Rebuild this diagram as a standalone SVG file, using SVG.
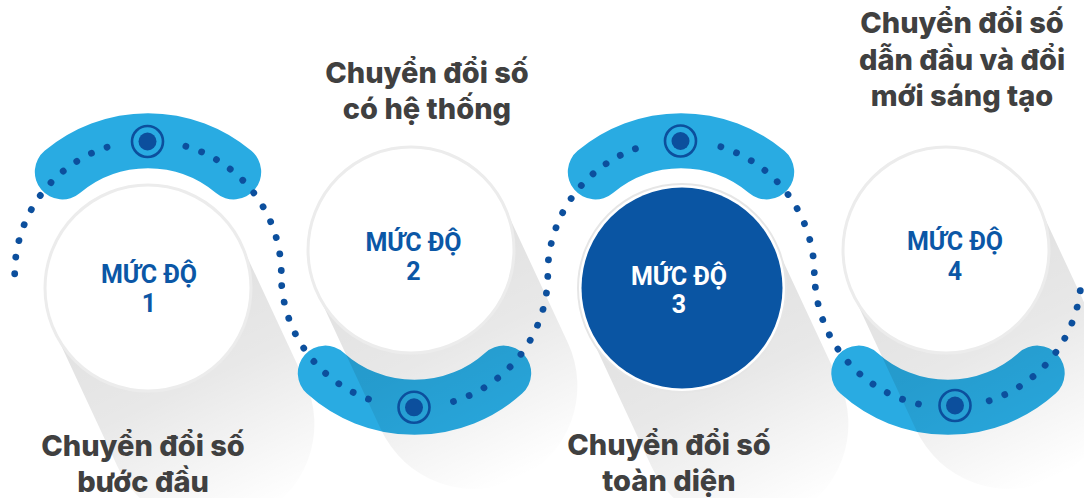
<svg xmlns="http://www.w3.org/2000/svg" xmlns:xlink="http://www.w3.org/1999/xlink" width="1084" height="498" viewBox="0 0 1084 498">
<style>
.band{fill:none;stroke:#29abe2;stroke-width:55;stroke-linecap:round}
.circ{fill:#ffffff;stroke:#ececec;stroke-width:3}
.tring{fill:none;stroke:#0c4f9d;stroke-width:2.6}
.tdot{fill:#0c4f9d}
.lbl{font-family:Roboto,"Liberation Sans",sans-serif;font-weight:700;font-size:25px;fill:#0b57a6;text-anchor:middle}
.lblw{fill:#ffffff}
.ttl{font-family:Inter,"Noto Sans","Liberation Sans",sans-serif;font-weight:800;font-size:29px;fill:#404040;text-anchor:middle}
.dots{fill:#0c4f9d}
</style>
<defs>
<linearGradient id="shg" gradientUnits="userSpaceOnUse" x1="0" y1="0" x2="106.9" y2="229.3">
<stop offset="0" stop-color="#000" stop-opacity="0.12"/>
<stop offset="0.42" stop-color="#000" stop-opacity="0.09"/>
<stop offset="1" stop-color="#000" stop-opacity="0"/>
</linearGradient>
<path id="shadow" d="M 93.35 -43.53 L 156.74 92.42 A 103 103 0 0 1 -30.04 179.48 L -93.35 43.53 Z" fill="url(#shg)"/>
<circle id="dt" cx="0" cy="-133.3" r="3.4"/>
<circle id="db" cx="0" cy="133.3" r="3.4"/>
</defs>
<rect width="1084" height="498" fill="#ffffff"/>

<g id="node1">
<path class="band" d="M 62.3 171.9 A 133.3 133.3 0 0 1 233.7 171.9"/>
<use href="#shadow" transform="translate(148 288)"/>
<circle class="circ" cx="148" cy="288" r="103"/>
<circle class="tring" cx="147.5" cy="141.5" r="15.5"/>
<circle class="tdot" cx="147.5" cy="141.5" r="9"/>
<text class="lbl" x="149" y="283">MỨC ĐỘ</text>
<text class="lbl" x="149" y="312">1</text>
<text class="ttl" x="143" y="456">Chuyển đổi số</text>
<text class="ttl" x="143" y="492">bước đầu</text>
</g>

<g id="node2">
<path class="band" d="M 325.3 373.1 A 133.3 133.3 0 0 0 503.7 373.1"/>
<use href="#shadow" transform="translate(411 250)"/>
<circle class="circ" cx="411" cy="250" r="103"/>
<circle class="tring" cx="414" cy="407.3" r="15.5"/>
<circle class="tdot" cx="414" cy="407.3" r="9"/>
<text class="lbl" x="413.5" y="251">MỨC ĐỘ</text>
<text class="lbl" x="413.5" y="280">2</text>
<text class="ttl" x="427" y="83">Chuyển đổi số</text>
<text class="ttl" x="427" y="119">có hệ thống</text>
</g>

<g id="node3">
<path class="band" d="M 595.3 171.9 A 133.3 133.3 0 0 1 766.7 171.9"/>
<use href="#shadow" transform="translate(682 288)"/>
<circle cx="682" cy="288" r="104" fill="#ffffff" stroke="#e6e6e6" stroke-width="2"/>
<circle cx="682" cy="288" r="100.5" fill="#0a55a3"/>
<circle class="tring" cx="680.5" cy="141" r="15.5"/>
<circle class="tdot" cx="680.5" cy="141" r="9"/>
<text class="lbl lblw" x="679" y="285">MỨC ĐỘ</text>
<text class="lbl lblw" x="679" y="313">3</text>
<text class="ttl" x="669" y="455">Chuyển đổi số</text>
<text class="ttl" x="669" y="491">toàn diện</text>
</g>

<g id="node4">
<path class="band" d="M 858.8 373.1 A 133.3 133.3 0 0 0 1037.2 373.1"/>
<use href="#shadow" transform="translate(946 250)"/>
<circle class="circ" cx="946" cy="250" r="103"/>
<circle class="tring" cx="955" cy="405.5" r="15.5"/>
<circle class="tdot" cx="955" cy="405.5" r="9"/>
<text class="lbl" x="955" y="250">MỨC ĐỘ</text>
<text class="lbl" x="955" y="280">4</text>
<text class="ttl" x="962" y="33">Chuyển đổi số</text>
<text class="ttl" x="962" y="70">dẫn đầu và đổi</text>
<text class="ttl" x="962" y="106">mới sáng tạo</text>
</g>

<g id="connectors" class="dots">
<g transform="translate(148 274)">
<use href="#dt" transform="rotate(-17.9)"/><use href="#dt" transform="rotate(-25.1)"/><use href="#dt" transform="rotate(-32.3)"/><use href="#dt" transform="rotate(-39.5)"/><use href="#dt" transform="rotate(-46.7)"/><use href="#dt" transform="rotate(-53.9)"/><use href="#dt" transform="rotate(-61.1)"/><use href="#dt" transform="rotate(-68.3)"/><use href="#dt" transform="rotate(-75.5)"/><use href="#dt" transform="rotate(-82.7)"/><use href="#dt" transform="rotate(-89.9)"/>
<use href="#dt" transform="rotate(16.5)"/><use href="#dt" transform="rotate(23.7)"/><use href="#dt" transform="rotate(30.9)"/><use href="#dt" transform="rotate(38.1)"/><use href="#dt" transform="rotate(45.3)"/><use href="#dt" transform="rotate(52.5)"/><use href="#dt" transform="rotate(59.7)"/><use href="#dt" transform="rotate(66.9)"/><use href="#dt" transform="rotate(74.1)"/><use href="#dt" transform="rotate(81.3)"/><use href="#dt" transform="rotate(88.5)"/>
</g>
<g transform="translate(414.5 274)">
<use href="#db" transform="rotate(20.2)"/><use href="#db" transform="rotate(27.4)"/><use href="#db" transform="rotate(34.6)"/><use href="#db" transform="rotate(41.8)"/><use href="#db" transform="rotate(49)"/><use href="#db" transform="rotate(56.2)"/><use href="#db" transform="rotate(63.4)"/><use href="#db" transform="rotate(70.6)"/><use href="#db" transform="rotate(77.8)"/><use href="#db" transform="rotate(85)"/>
<use href="#db" transform="rotate(-17)"/><use href="#db" transform="rotate(-24.2)"/><use href="#db" transform="rotate(-31.4)"/><use href="#db" transform="rotate(-38.6)"/><use href="#db" transform="rotate(-45.8)"/><use href="#db" transform="rotate(-53)"/><use href="#db" transform="rotate(-60.2)"/><use href="#db" transform="rotate(-67.4)"/><use href="#db" transform="rotate(-74.6)"/><use href="#db" transform="rotate(-81.8)"/><use href="#db" transform="rotate(-89)"/>
</g>
<g transform="translate(681 274)">
<use href="#dt" transform="rotate(-20)"/><use href="#dt" transform="rotate(-27.1)"/><use href="#dt" transform="rotate(-34.2)"/><use href="#dt" transform="rotate(-41.3)"/><use href="#dt" transform="rotate(-48.4)"/><use href="#dt" transform="rotate(-55.5)"/><use href="#dt" transform="rotate(-62.6)"/><use href="#dt" transform="rotate(-69.7)"/><use href="#dt" transform="rotate(-76.8)"/><use href="#dt" transform="rotate(-83.9)"/>
<use href="#dt" transform="rotate(17.4)"/><use href="#dt" transform="rotate(24.6)"/><use href="#dt" transform="rotate(31.8)"/><use href="#dt" transform="rotate(39)"/><use href="#dt" transform="rotate(46.2)"/><use href="#dt" transform="rotate(53.4)"/><use href="#dt" transform="rotate(60.6)"/><use href="#dt" transform="rotate(67.8)"/><use href="#dt" transform="rotate(75)"/><use href="#dt" transform="rotate(82.2)"/><use href="#dt" transform="rotate(89.4)"/>
</g>
<g transform="translate(948 274)">
<use href="#db" transform="rotate(12.8)"/><use href="#db" transform="rotate(19.95)"/><use href="#db" transform="rotate(27.1)"/><use href="#db" transform="rotate(34.25)"/><use href="#db" transform="rotate(41.4)"/><use href="#db" transform="rotate(48.55)"/><use href="#db" transform="rotate(55.7)"/><use href="#db" transform="rotate(62.85)"/><use href="#db" transform="rotate(70)"/><use href="#db" transform="rotate(77.15)"/><use href="#db" transform="rotate(84.3)"/>
<use href="#db" transform="rotate(-18)"/><use href="#db" transform="rotate(-25.2)"/><use href="#db" transform="rotate(-32.4)"/><use href="#db" transform="rotate(-39.6)"/><use href="#db" transform="rotate(-46.8)"/><use href="#db" transform="rotate(-54)"/><use href="#db" transform="rotate(-61.2)"/><use href="#db" transform="rotate(-68.4)"/><use href="#db" transform="rotate(-75.6)"/><use href="#db" transform="rotate(-82.8)"/>
</g>
</g>
</svg>
